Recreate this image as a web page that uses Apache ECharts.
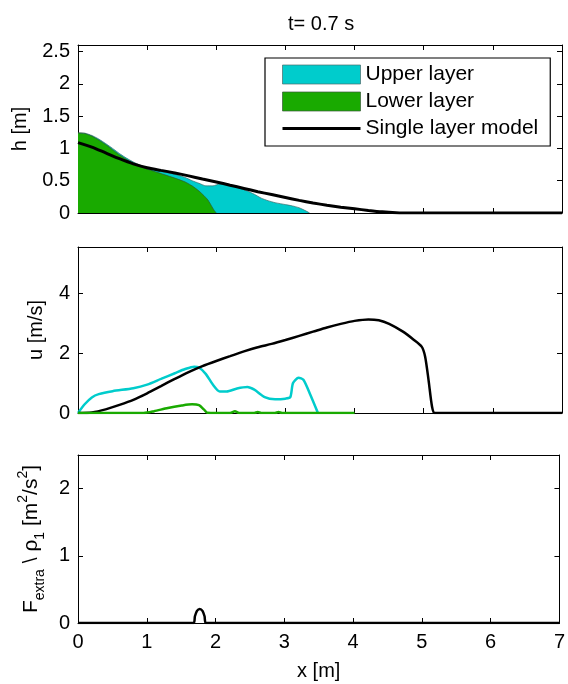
<!DOCTYPE html>
<html>
<head>
<meta charset="utf-8">
<script src="https://cdn.jsdelivr.net/npm/echarts@6/dist/echarts.min.js"></script>
<style>
  html, body { margin: 0; padding: 0; background: #fff; }
  #main { width: 568px; height: 684px; }
</style>
</head>
<body>
<div id="main"></div>
<script>
// snapshot at t = 0.7 s
// [x (m), value]
const upperTopH = [[0,1.24],[0.1,1.235],[0.2,1.2],[0.3,1.145],[0.4,1.075],[0.5,1.0],[0.6,0.92],[0.7,0.85],[0.8,0.79],[0.9,0.74],[1.0,0.7],[1.2,0.645],[1.4,0.6],[1.55,0.55],[1.65,0.5],[1.75,0.46],[1.85,0.42],[1.95,0.42],[2.05,0.45],[2.15,0.45],[2.25,0.42],[2.35,0.38],[2.45,0.34],[2.55,0.29],[2.65,0.23],[2.75,0.19],[2.85,0.16],[3.0,0.13],[3.1,0.11],[3.2,0.08],[3.3,0.03],[3.35,0]]
const lowerTopH = [[0,1.24],[0.1,1.23],[0.2,1.19],[0.3,1.13],[0.4,1.06],[0.5,0.98],[0.6,0.9],[0.7,0.83],[0.8,0.77],[0.9,0.72],[1.0,0.68],[1.2,0.61],[1.4,0.54],[1.55,0.48],[1.65,0.42],[1.75,0.34],[1.82,0.27],[1.88,0.2],[1.93,0.11],[1.97,0.04],[2.0,0]]
const singleH = [[0,1.09],[0.2,1.02],[0.4,0.93],[0.6,0.84],[0.8,0.76],[1.0,0.7],[1.2,0.66],[1.4,0.62],[1.6,0.575],[1.8,0.525],[2.0,0.48],[2.2,0.43],[2.4,0.38],[2.6,0.33],[2.8,0.285],[3.0,0.24],[3.2,0.195],[3.4,0.155],[3.6,0.12],[3.8,0.09],[4.0,0.065],[4.2,0.04],[4.4,0.018],[4.6,0.003],[4.7,0],[7,0]]

const upperU = [[0,0],[0.1,0.3],[0.2,0.52],[0.3,0.63],[0.5,0.73],[0.8,0.83],[1.0,0.95],[1.2,1.14],[1.4,1.33],[1.55,1.47],[1.68,1.55],[1.75,1.52],[1.85,1.3],[1.95,0.95],[2.05,0.72],[2.15,0.72],[2.3,0.82],[2.45,0.87],[2.55,0.78],[2.7,0.53],[2.85,0.46],[3.0,0.48],[3.07,0.53],[3.11,1.0],[3.19,1.18],[3.26,1.11],[3.36,0.61],[3.47,0]]
const lowerU = [[0,0],[0.95,0],[1.1,0.06],[1.3,0.17],[1.5,0.25],[1.65,0.29],[1.75,0.26],[1.82,0.12],[1.87,0.01],[2.2,0],[2.27,0.06],[2.33,0],[2.55,0],[2.6,0.03],[2.65,0],[2.85,0],[2.9,0.03],[2.95,0],[4.0,0]]
const singleU = [[0,0],[0.2,0.02],[0.4,0.12],[0.6,0.27],[0.8,0.44],[1.0,0.66],[1.2,0.9],[1.4,1.14],[1.6,1.37],[1.8,1.57],[2.0,1.74],[2.2,1.9],[2.4,2.06],[2.6,2.2],[2.8,2.31],[3.0,2.44],[3.2,2.58],[3.4,2.72],[3.6,2.86],[3.8,2.98],[4.0,3.08],[4.2,3.13],[4.35,3.1],[4.5,2.98],[4.7,2.72],[4.85,2.46],[4.97,2.22],[5.02,1.89],[5.07,1.1],[5.12,0.22],[5.16,0],[7,0]]

const singleF = [[0,0],[1.68,0],[1.7,0.1],[1.73,0.18],[1.77,0.21],[1.81,0.18],[1.84,0.1],[1.86,0],[7,0]]

const xLim = [0, 7]
const hLim = [0, 2.6]
const uLim = [0, 5.55]
const fLim = [0, 2.5]

const FONT = 'Liberation Sans'
const CYAN = '#00cccc'
const GREEN = '#19aa00'
const grids = [
  { left: 78, right: 6, top: 45, height: 168 },
  { left: 78, right: 6, top: 247, height: 166 },
  { left: 78, right: 6, top: 455, height: 168 },
]

const frame = (extra) => Object.assign({
  type: 'value',
  axisLine: { show: true, onZero: false, lineStyle: { color: '#000', width: 1 } },
  axisTick: { show: true, inside: true, length: 5, lineStyle: { color: '#000' } },
  axisLabel: { show: false },
  splitLine: { show: false },
}, extra)

const tickLabel = { show: true, color: '#000', fontSize: 20, fontFamily: FONT }
const nameStyle = { color: '#000', fontSize: 20, fontFamily: FONT }

let xAxis = []
let yAxis = []
const yLims = [hLim, uLim, fLim]
const yStep = [0.5, 2, 1]
const yNames = ['h [m]', 'u [m/s]', '{m|F}{sub|extra}{m| \\ ρ}{sub|1}{m| [m}{sup|2}{m|/s}{sup|2}{m|]}']
const yGaps = [48, 32, 31]
grids.forEach((g, i) => {
  xAxis.push(frame({
    gridIndex: i, position: 'bottom', min: xLim[0], max: xLim[1], interval: 1,
    axisLabel: i === 2 ? Object.assign({ margin: 9 }, tickLabel) : { show: false },
    name: i === 2 ? 'x [m]' : '', nameLocation: 'middle', nameGap: 38, nameTextStyle: nameStyle,
  }))
  xAxis.push(frame({ gridIndex: i, position: 'top', min: xLim[0], max: xLim[1], interval: 1 }))
  yAxis.push(frame({
    gridIndex: i, position: 'left', min: yLims[i][0], max: yLims[i][1], interval: yStep[i],
    axisLabel: Object.assign({ margin: 8, showMaxLabel: false }, tickLabel),
    name: yNames[i], nameLocation: 'middle', nameRotate: 90, nameGap: yGaps[i],
    nameTextStyle: Object.assign({}, nameStyle, {
      rich: {
        m: { fontSize: 21, fontFamily: FONT, color: '#000', lineHeight: 31 },
        sub: { fontSize: 14, fontFamily: FONT, color: '#000', lineHeight: 14, verticalAlign: 'bottom' },
        sup: { fontSize: 14, fontFamily: FONT, color: '#000', lineHeight: 14, verticalAlign: 'top' },
      },
    }),
  }))
  yAxis.push(frame({ gridIndex: i, position: 'right', min: yLims[i][0], max: yLims[i][1], interval: yStep[i] }))
})

const line = (data, color, panel, extra) => Object.assign({
  type: 'line', data: data, xAxisIndex: panel * 2, yAxisIndex: panel * 2,
  showSymbol: false, symbol: 'none', smooth: 0.25,
  color: color, lineStyle: { color: color, width: 2.5 },
  animation: false, silent: true,
}, extra)

const option = {
  backgroundColor: '#fff',
  animation: false,
  title: {
    text: 't= 0.7 s', left: 283, top: 9,
    textStyle: { fontSize: 20, fontWeight: 'normal', color: '#000', fontFamily: FONT },
  },
  legend: {
    left: 265, top: 58, orient: 'vertical',
    itemWidth: 78, itemHeight: 19, itemGap: 6,
    padding: [6, 12, 7, 16],
    borderColor: '#000', borderWidth: 1.2, backgroundColor: '#fff',
    textStyle: { fontSize: 21, color: '#000', fontFamily: FONT },
    data: [
      { name: 'Upper layer', icon: 'rect', itemStyle: { color: CYAN, borderColor: '#4a6a6a', borderWidth: 0.7 } },
      { name: 'Lower layer', icon: 'rect', itemStyle: { color: GREEN, borderColor: '#3a5a3a', borderWidth: 0.7 } },
      { name: 'Single layer model', lineStyle: { color: '#000', width: 3 },
        itemStyle: { color: 'rgba(0,0,0,0)', borderWidth: 0, opacity: 0 } },
    ],
    selectedMode: false,
  },
  grid: grids,
  xAxis: xAxis,
  yAxis: yAxis,
  series: [
    line(upperTopH, CYAN, 0, {
      name: 'Upper layer', smooth: 0.2,
      lineStyle: { color: '#3d6b6b', width: 0.7 }, areaStyle: { color: CYAN, opacity: 1 },
    }),
    line(lowerTopH, GREEN, 0, {
      name: 'Lower layer', smooth: 0.2,
      lineStyle: { color: '#2f5a2f', width: 0.7 }, areaStyle: { color: GREEN, opacity: 1 },
    }),
    line(singleH, '#000', 0, { name: 'Single layer model', lineStyle: { color: '#000', width: 3 } }),
    line(upperU, CYAN, 1),
    line(singleU, '#000', 1),
    line(lowerU, GREEN, 1),
    line(singleF, '#000', 2),
  ],
}

const chart = echarts.init(document.getElementById('main'))
chart.setOption(option)
</script>
</body>
</html>
